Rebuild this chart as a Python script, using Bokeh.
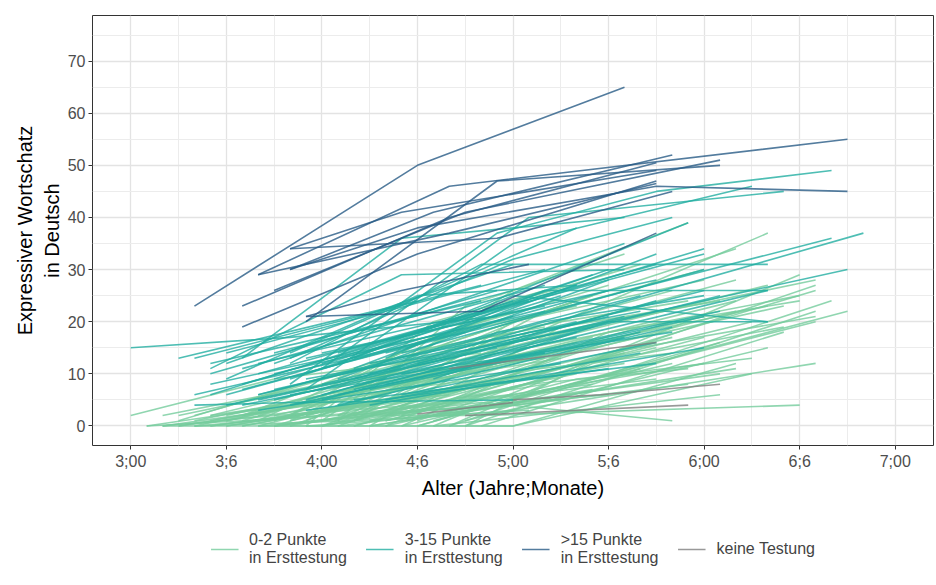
from bokeh.plotting import figure
from bokeh.layouts import column
from bokeh.models import Range1d, FixedTicker, Legend, LegendItem
from bokeh.embed import file_html
from bokeh.resources import INLINE

# Age in months, vocabulary score
x_ticks = [36, 42, 48, 54, 60, 66, 72, 78, 84]
x_tick_labels = ["3;00", "3;6", "4;00", "4;6", "5;00", "5;6", "6;00", "6;6", "7;00"]
x_minor = [39, 45, 51, 57, 63, 69, 75, 81]
y_ticks = [0, 10, 20, 30, 40, 50, 60, 70]
y_minor = [5, 15, 25, 35, 45, 55, 65, 75]

group_labels = ["0-2 Punkte\nin Ersttestung", "3-15 Punkte\nin Ersttestung",
                ">15 Punkte\nin Ersttestung", "keine Testung"]

green_ages = [
    [36, 45, 58], [38, 52], [39, 50, 62], [39, 55], [40, 56], [40, 58], [41, 54], [41, 60],
    [42, 57], [42, 62], [43, 59], [43, 61], [44, 58], [44, 63], [45, 60], [45, 64],
    [46, 62], [46, 66], [47, 60], [47, 65], [48, 64], [48, 67], [49, 63], [49, 68],
    [50, 66], [50, 69], [51, 65], [51, 70], [52, 68], [52, 72], [53, 70], [54, 73],
    [55, 78], [54, 79], [53, 79], [56, 80], [55, 81], [57, 79], [56, 79], [58, 77],
    [57, 76], [58, 79], [52, 58, 78], [50, 63, 76], [49, 62, 74], [48, 60, 71],
    [55, 73], [54, 73], [53, 74], [45, 58, 70], [47, 60, 74], [46, 61, 72],
    [45, 59, 71], [44, 58, 69], [43, 57, 66], [42, 56, 64], [41, 55, 63], [40, 54, 65],
    [39, 51, 60], [38, 48, 58], [37, 46, 56], [40, 52, 65], [41, 53, 67], [42, 55, 69],
    [43, 56, 70], [44, 57, 72], [45, 58, 74], [46, 59, 76], [47, 60, 79], [48, 61, 78],
    [49, 62, 77], [50, 63, 75], [51, 64, 74], [52, 65, 76], [53, 66, 78], [46, 56, 64],
    [47, 57, 66], [48, 58, 68], [49, 59, 70], [50, 60, 72], [51, 61, 73], [44, 55, 64],
    [43, 53, 62], [42, 51, 59], [41, 50, 58], [39, 47, 56], [38, 45, 54], [37, 49, 60],
    [40, 50, 61], [45, 55, 66], [48, 58, 69], [51, 60, 71], [54, 62, 72], [55, 64, 75],
    [56, 65, 77], [57, 66, 79], [50, 59, 70], [52, 61, 71], [53, 63, 74], [49, 57, 67],
    [47, 55, 62], [46, 54, 60], [44, 60, 75], [38, 48, 57],
]
green_vals = [
    [2, 9, 14], [0, 6], [2, 9, 13], [0, 8], [0, 10], [1, 12], [0, 5], [2, 16],
    [0, 7], [1, 14], [0, 9], [2, 18], [0, 4], [1, 11], [0, 6], [2, 15],
    [0, 8], [1, 13], [0, 3], [2, 17], [0, 10], [1, 14], [0, 5], [2, 19],
    [0, 12], [1, 16], [0, 7], [2, 20], [0, 11], [1, 17], [0, 12], [0, 16],
    [0, 29], [1, 27], [2, 26], [0, 24], [1, 22], [0, 22], [2, 20], [0, 18],
    [1, 15], [2, 12], [2, 2, 4], [2, 20, 37], [1, 22, 34], [2, 26, 39],
    [0, 6], [2, 10], [1, 11], [0, 4.5, 1], [0, 0, 12], [2, 21, 30],
    [1, 18, 24], [2, 15, 22], [1, 13, 20], [2, 11, 16], [1, 9, 13], [2, 14, 25],
    [1, 12, 18], [2, 8, 16], [0, 4, 10], [0, 3, 8], [0, 5, 12], [0, 6, 15],
    [0, 7, 17], [0, 10, 21], [0, 12, 24], [0, 14, 27], [1, 16, 28], [0, 15, 25],
    [0, 13, 23], [0, 11, 20], [1, 14, 22], [0, 16, 23], [0, 18, 24], [1, 16, 24],
    [2, 19, 27], [1, 22, 31], [2, 17, 26], [1, 20, 28], [0, 18, 24], [1, 17, 23],
    [2, 14, 19], [1, 7, 12], [2, 6, 9], [0, 3, 6], [0, 2, 4], [0, 2, 4],
    [0, 1, 3], [0, 3, 6], [0, 5, 9], [0, 4, 8], [0, 7, 12], [2, 9, 13],
    [0, 12, 19], [0, 14, 21], [2, 10, 14], [1, 8, 11], [2, 19, 28], [1, 23, 33],
    [0, 20, 26], [2, 16, 22], [0, 0, 10], [0, 0, 7],
]

teal_ages = [
    [36, 46, 59], [41, 53, 67], [43, 53, 67], [40, 58], [41, 60], [42, 66], [40, 46, 60],
    [43, 64], [42, 62], [44, 69], [45, 72], [46, 58, 76], [47, 66], [46, 59, 69, 80],
    [47, 60, 75], [48, 61, 77], [49, 71], [50, 82], [52, 80], [51, 81], [45, 67],
    [44, 68], [46, 72], [47, 69], [48, 73], [49, 70], [50, 76], [43, 64], [42, 54, 64],
    [41, 62], [45, 67], [46, 64], [44, 61], [47, 69], [48, 66], [49, 68], [50, 69],
    [51, 72], [47, 66], [44, 63], [45, 64], [43, 62], [42, 60], [40, 57], [41, 59],
    [46, 63], [48, 65], [49, 72], [50, 60, 76], [52, 73], [51, 68], [53, 70], [53, 72],
    [39, 54], [42, 56], [44, 59], [46, 62], [48, 64], [45, 60], [47, 65], [43, 58],
    [41, 58], [52, 68], [50, 69], [49, 66], [51, 67], [54, 72], [53, 69], [45, 60],
    [48, 62], [52, 62, 76], [55, 66, 76], [46, 60, 70], [44, 52, 62, 72],
]
teal_vals = [
    [15, 17, 21], [11, 29, 30], [13, 36, 40], [13, 27], [6, 24], [6, 26], [4, 4.5, 5],
    [8, 27], [14, 30], [10, 31], [9, 34], [12, 31, 31], [10, 30], [8, 37, 45, 49],
    [7, 35, 46], [11, 40, 45], [12, 39], [9, 37], [14, 36], [10, 30], [5, 21],
    [6, 25], [4, 21], [5, 24], [6, 25], [4, 19], [7, 26], [4, 17], [9, 25, 27],
    [8, 22], [12, 35], [14, 38], [12, 24], [13, 28], [8, 21], [6, 18], [5, 12],
    [4, 15], [3, 11], [3, 12], [7, 20], [11, 27], [12, 31], [6, 18], [10, 26],
    [9, 25], [12, 29], [14, 33], [13, 25, 20], [8, 22], [12, 22], [10, 18], [14, 30],
    [13, 24], [4, 13], [5, 15], [6, 14], [5, 18], [10, 21], [9, 19], [7, 19],
    [12, 24], [5, 14], [11, 33], [9, 28], [7, 17], [12, 26], [6, 16], [14, 26],
    [14, 23], [13, 26, 26], [9, 20, 20], [13, 32, 40], [6, 12, 20, 25],
]

dark_ages = [
    [40, 54, 67], [44, 56, 81], [46, 55, 70], [43, 56, 69], [46, 53, 69], [45, 57, 73],
    [47, 59, 73], [43, 54, 69], [46, 54, 69, 81], [47, 58, 69], [46, 59, 70],
    [47, 53, 61], [44, 56, 69],
]
dark_vals = [
    [23, 50, 65], [29, 46, 55], [30, 41, 52], [23, 40, 50.5], [34, 41, 49], [26, 41, 51],
    [20, 47, 50], [19, 33, 47], [30, 38, 46, 45], [21, 22, 37], [34, 36, 45],
    [21, 26, 31], [29, 37, 46.5],
]

gray_ages = [[56, 69], [57, 71], [60, 65.5, 73], [54, 60]]
gray_vals = [[11, 16], [2, 4], [5, 6, 8], [2.3, 4.5]]

colors = ["#74cc9c", "#22aea1", "#285b86", "#7f7f7f"]
FONT = "Liberation Sans"
groups = [(green_ages, green_vals), (teal_ages, teal_vals),
          (dark_ages, dark_vals), (gray_ages, gray_vals)]

p = figure(width=936, height=501, x_range=Range1d(33.6, 86.4), y_range=Range1d(-3.75, 78.75),
           output_backend="svg", toolbar_location=None,
           min_border_left=92, min_border_right=3, min_border_top=15, min_border_bottom=10)

for (ages, vals), col in zip(groups, colors):
    p.multi_line(xs=ages, ys=vals, line_color=col, line_alpha=0.8, line_width=1.6)

p.xaxis.ticker = FixedTicker(ticks=x_ticks, minor_ticks=x_minor)
p.yaxis.ticker = FixedTicker(ticks=y_ticks, minor_ticks=y_minor)
p.xaxis.major_label_overrides = {t: l for t, l in zip(x_ticks, x_tick_labels)}

for ax in (p.xaxis, p.yaxis):
    ax.axis_line_color = None
    ax.major_tick_line_color = "#333333"
    ax.major_tick_in = 0
    ax.major_tick_out = 4
    ax.minor_tick_line_color = None
    ax.major_label_text_font = FONT
    ax.major_label_text_font_size = "16px"
    ax.major_label_text_color = "#4d4d4d"
    ax.axis_label_text_font = FONT
    ax.axis_label_text_font_size = "20px"
    ax.axis_label_text_font_style = "normal"
    ax.axis_label_text_color = "#000000"
    ax.major_label_standoff = 3

p.xaxis.axis_label = "Alter (Jahre;Monate)"
p.yaxis.axis_label = "Expressiver Wortschatz\nin Deutsch"
p.xaxis.axis_label_standoff = 4
p.yaxis.axis_label_standoff = 2

for g in (p.xgrid, p.ygrid):
    g.grid_line_color = "#e3e3e3"
    g.grid_line_width = 1.3
    g.minor_grid_line_color = "#ececec"
    g.minor_grid_line_width = 1.0

p.outline_line_color = "#333333"
p.outline_line_width = 1
p.border_fill_color = "white"

# Legend panel: same series drawn into a figure whose ranges keep them out of view
lg = figure(width=936, height=84, x_range=Range1d(0, 1), y_range=Range1d(0, 1),
            output_backend="svg", toolbar_location=None,
            min_border=0, min_border_left=32, min_border_top=12, outline_line_color=None)
lg.axis.visible = False
lg.grid.visible = False
items = []
for (ages, vals), col, lab in zip(groups, colors, group_labels):
    r = lg.multi_line(xs=ages, ys=vals, line_color=col, line_alpha=0.8, line_width=1.6)
    items.append(LegendItem(label=lab, renderers=[r]))
legend = Legend(items=items, orientation="horizontal", location="center")
legend.label_text_font = FONT
legend.label_text_font_size = "16px"
legend.glyph_width = 28
legend.label_standoff = 11
legend.spacing = 19
legend.border_line_color = None
legend.background_fill_alpha = 0
lg.add_layout(legend, "center")

open("out.html", "w").write(file_html(column(p, lg, spacing=0), INLINE))
